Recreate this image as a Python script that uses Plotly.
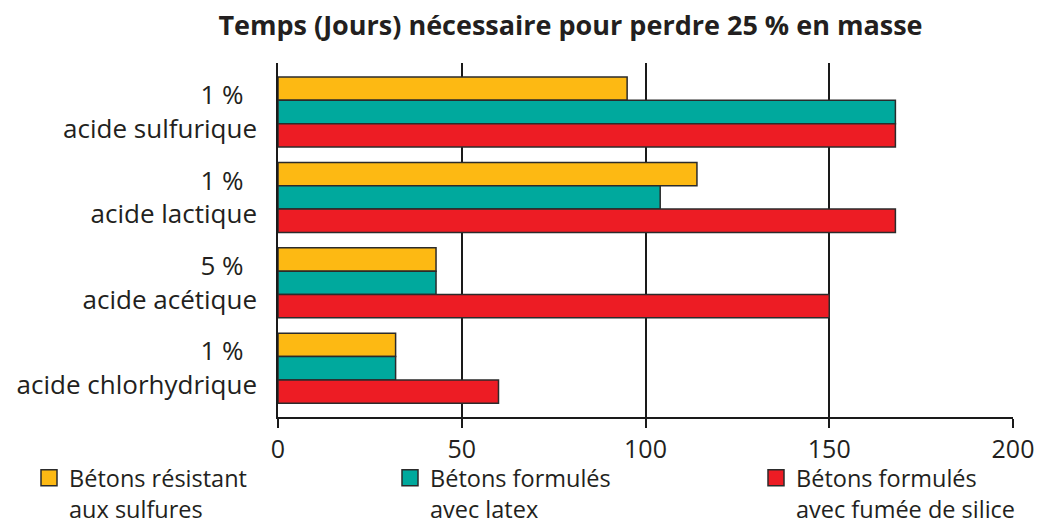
import plotly.graph_objects as go

# ---- data ----
categories = ["1 %  <br>acide sulfurique", "1 %  <br>acide lactique",
              "5 %  <br>acide acétique", "1 %  <br>acide chlorhydrique"]
series_names = ["Bétons résistant<br>aux sulfures",
                "Bétons formulés<br>avec latex",
                "Bétons formulés<br>avec fumée de silice"]
resistant = [95, 114, 43, 32]
latex = [168, 104, 43, 32]
silice = [168, 168, 150, 60]
x_ticks = [0, 50, 100, 150, 200]
title_text = "Temps (Jours) nécessaire pour perdre 25 % en masse"

colors = ["#FDB913", "#00A99D", "#ED1C24"]
legend_ids = ["legend", "legend2", "legend3"]
legend_x_px = [29, 390, 756]
FONT = "Open Sans"
TXT = "#231F20"
LINE = "#1a1a1a"

fig = go.Figure()
for name, vals, col, lg in zip(series_names, [resistant, latex, silice], colors, legend_ids):
    fig.add_trace(go.Bar(
        y=categories, x=vals, orientation="h", name=name,
        marker=dict(color=col, line=dict(color="#2b2b2b", width=1.5)),
        showlegend=False, hoverinfo="x",
    ))
    # legend proxy (square symbol)
    fig.add_trace(go.Scatter(
        x=[None], y=[None], mode="markers", name=name, legend=lg,
        marker=dict(symbol="square", size=16, color=col,
                    line=dict(color="#2b2b2b", width=1.5)),
        showlegend=True,
    ))

legend_common = dict(orientation="h", xref="container", yref="container",
                     xanchor="left", y=1 - 456 / 523, yanchor="top",
                     valign="top", itemsizing="trace", itemclick=False,
                     itemdoubleclick=False,
                     font=dict(size=23.5, family=FONT, color=TXT),
                     bgcolor="rgba(0,0,0,0)")

fig.update_layout(
    width=1041, height=523,
    margin=dict(l=278, r=28, t=63, b=106, autoexpand=False),
    paper_bgcolor="white", plot_bgcolor="white",
    barmode="group", bargap=0.18, bargroupgap=0,
    font=dict(family=FONT, color=TXT),
    title=dict(text="<b>" + title_text + "</b>", x=0.548, xanchor="center",
               y=1 - 26 / 523, yanchor="middle", yref="container",
               font=dict(size=27, family=FONT, color=TXT)),
    xaxis=dict(range=[0, 200], tickmode="array", tickvals=x_ticks,
               ticktext=[str(v) for v in x_ticks],
               showgrid=True, gridcolor=LINE, gridwidth=1.5,
               showline=True, linecolor=LINE, linewidth=1.5,
               ticks="outside", ticklen=9, tickwidth=1.5, tickcolor=LINE,
               tickfont=dict(size=25, family=FONT, color=TXT),
               zeroline=False, fixedrange=True),
    yaxis=dict(categoryorder="array", categoryarray=categories,
               range=[3.571, -0.574], showgrid=False,
               showline=True, linecolor=LINE, linewidth=1.5,
               ticks="", ticklabelstandoff=14,
               tickfont=dict(size=26, family=FONT, color=TXT),
               zeroline=False, fixedrange=True),
    legend=dict(legend_common, x=legend_x_px[0] / 1041),
    legend2=dict(legend_common, x=legend_x_px[1] / 1041),
    legend3=dict(legend_common, x=legend_x_px[2] / 1041),
)

fig.write_html("out.html", config={"displayModeBar": False},
               post_script="document.body.style.margin='0';")
